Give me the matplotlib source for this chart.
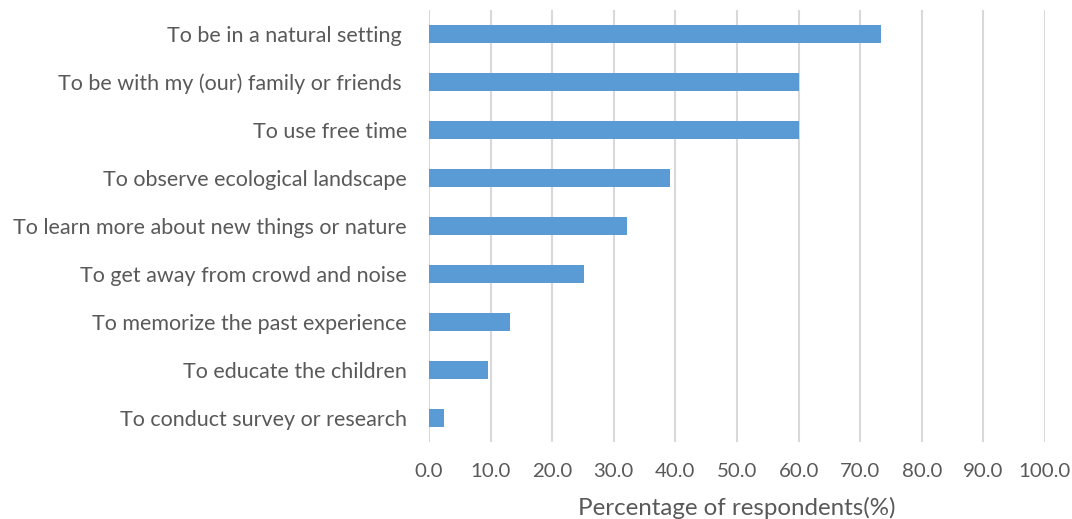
import matplotlib
matplotlib.use("Agg")
import matplotlib.pyplot as plt

categories = [
    "To be in a natural setting ",
    "To be with my (our) family or friends ",
    "To use free time",
    "To observe ecological landscape",
    "To learn more about new things or nature",
    "To get away from crowd and noise",
    "To memorize the past experience",
    "To educate the children",
    "To conduct survey or research",
]
values = [73.4, 60.0, 60.0, 39.1, 32.2, 25.2, 13.2, 9.5, 2.4]
xticks = [0, 10, 20, 30, 40, 50, 60, 70, 80, 90, 100]
xticklabels = [f"{t:.1f}" for t in xticks]

plt.rcParams['font.family'] = ['Lato', 'DejaVu Sans']
txt = '#595959'

fig = plt.figure(figsize=(10.72, 5.19), dpi=100)
ax = fig.add_axes([429/1072, 1-442/519, (1045-429)/1072, (442-10)/519])

ypos = list(range(len(categories)))
ax.barh(ypos, values, height=0.36, color='#5b9bd5', zorder=3)
ax.set_ylim(len(categories)-0.5, -0.5)
ax.set_xlim(0, 100)
ax.set_xticks(xticks)
ax.set_xticklabels(xticklabels, fontsize=14.7, color=txt)
ax.set_yticks(ypos)
ax.set_yticklabels(categories, fontsize=15.5, color=txt)
ax.tick_params(axis='both', length=0)
ax.tick_params(axis='x', pad=15)
ax.tick_params(axis='y', pad=16)
ax.grid(axis='x', color='#d9d9d9', linewidth=1.5, zorder=0)
for s in ax.spines.values():
    s.set_visible(False)
ax.set_xlabel("Percentage of respondents(%)", fontsize=17.4, color=txt, labelpad=12)

fig.savefig("out.png", dpi=100)
